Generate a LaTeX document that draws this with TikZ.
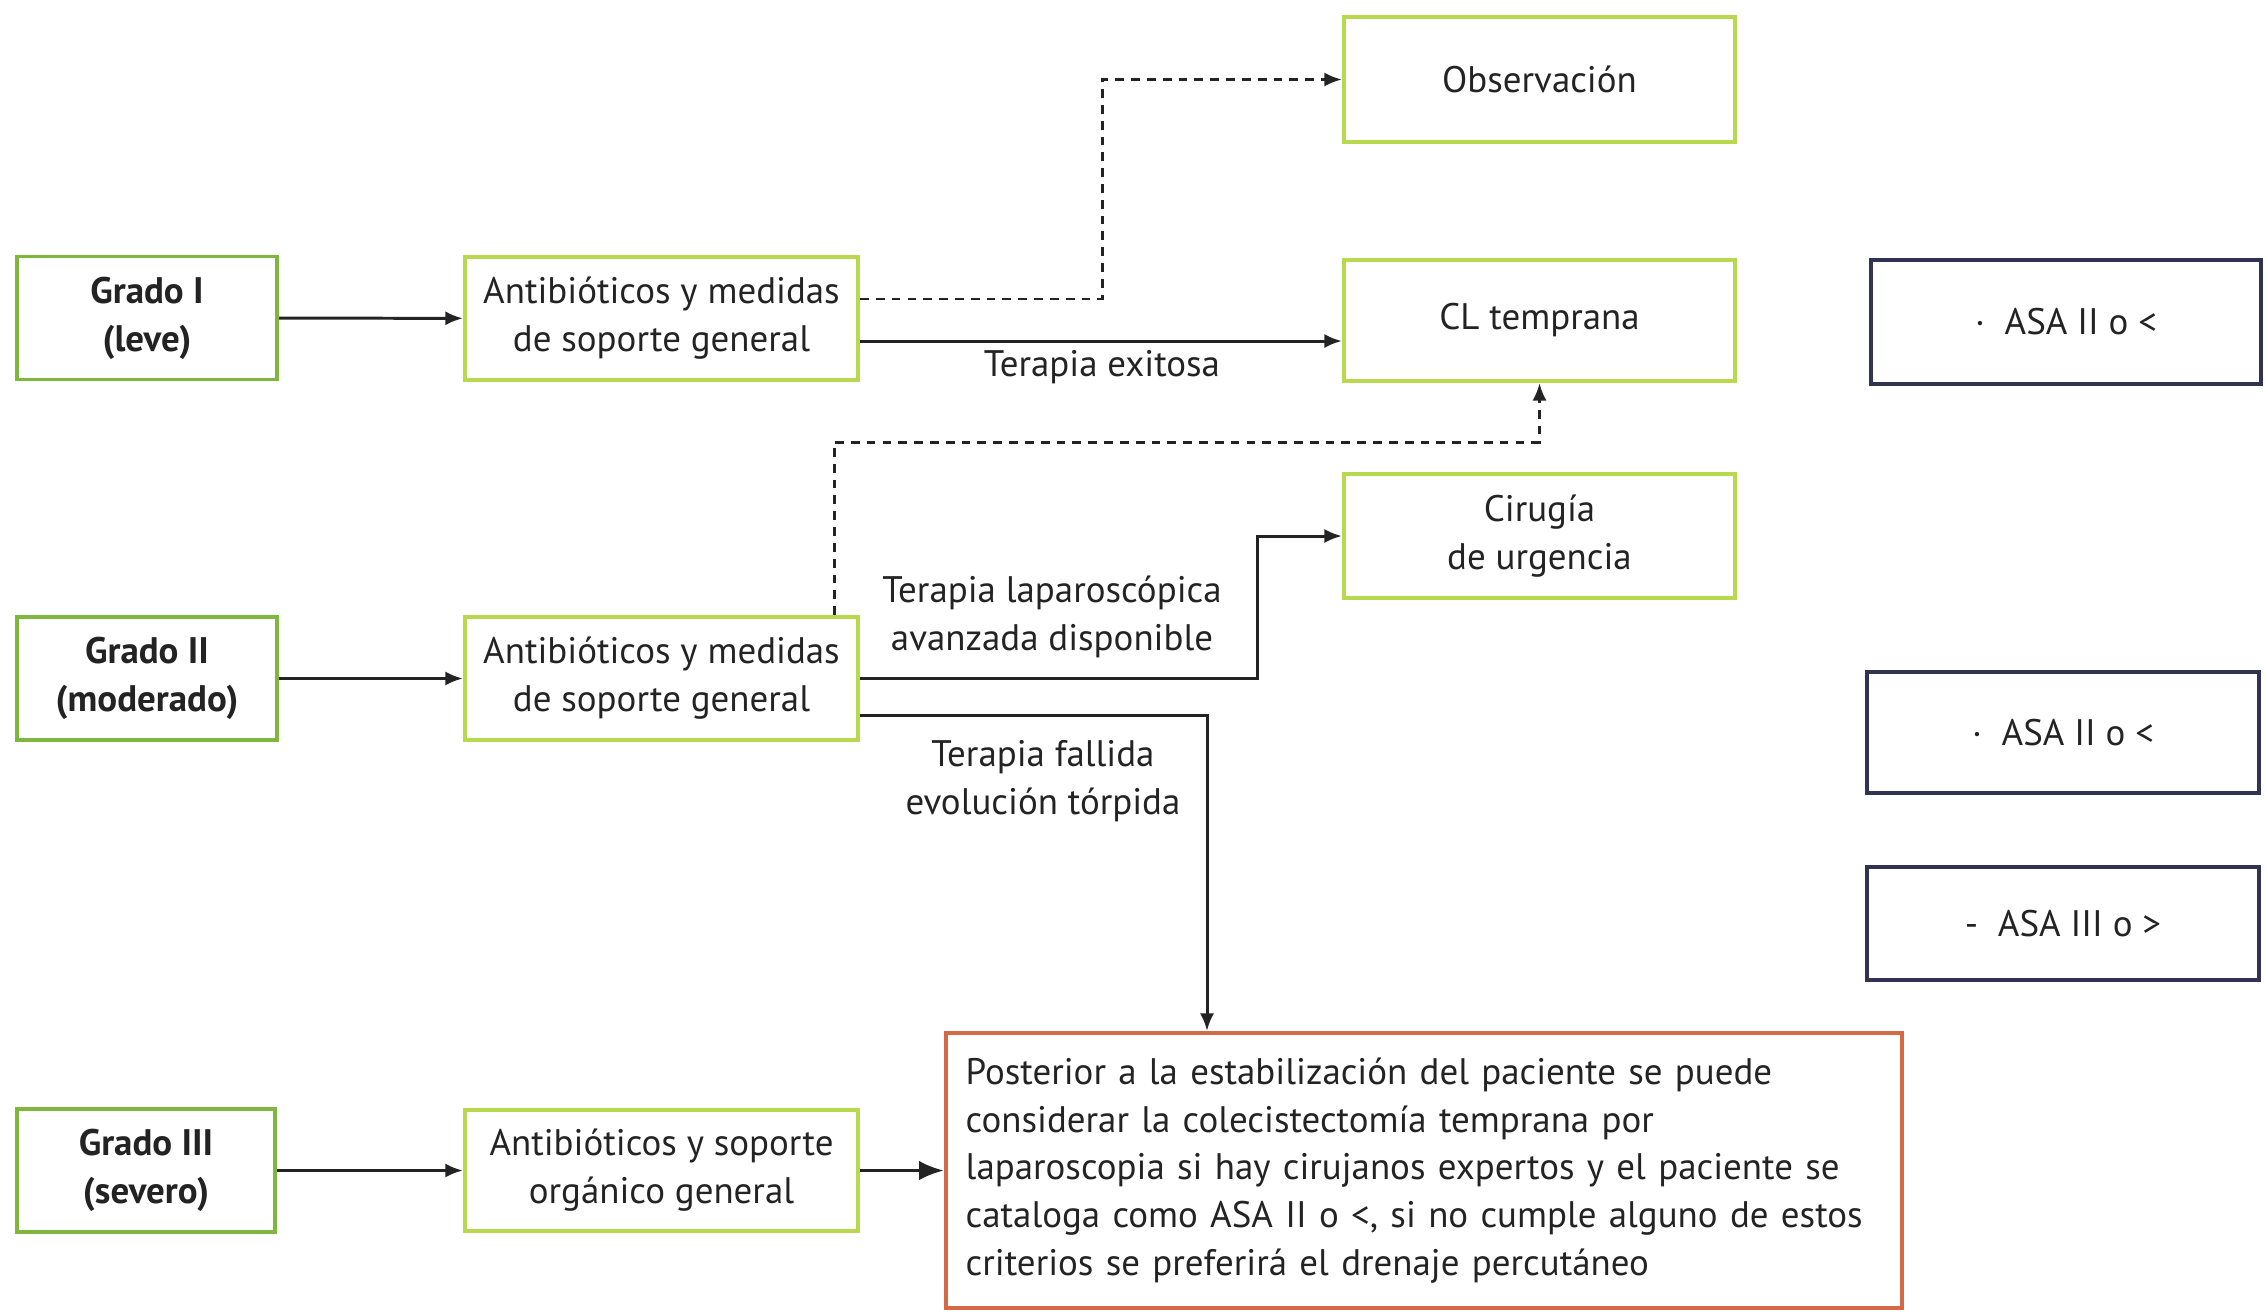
\documentclass[tikz,border=0pt]{standalone}
\usepackage{fontspec}
\setmainfont{PT Sans}
\usetikzlibrary{arrows.meta}
\definecolor{boxgreen}{RGB}{184,216,78}
\definecolor{gradegreen}{RGB}{126,182,62}
\definecolor{asablue}{RGB}{48,52,82}
\definecolor{postred}{RGB}{214,104,70}
\definecolor{ink}{RGB}{35,35,35}

\begin{document}
\begin{tikzpicture}[x=0.01cm,y=-0.01cm,
  every node/.style={text=ink},
  basefont/.style={font=\fontsize{10.5}{13.6}\selectfont},
  box/.style={basefont, draw=boxgreen, line width=1.1pt, minimum width=3.93cm,
    minimum height=1.23cm, align=center, inner sep=2pt},
  grade/.style={box, draw=gradegreen, minimum width=2.6cm,
    font=\fontsize{10.5}{13.6}\selectfont\bfseries},
  asa/.style={basefont, draw=asablue, line width=1.1pt, minimum width=3.9cm,
    minimum height=1.22cm},
  arr/.style={draw=ink, line width=0.85pt, -{Latex[length=5pt,width=4pt]}},
  bigarr/.style={arr, -{Latex[length=7pt,width=5.5pt]}},
  dasharr/.style={arr, dash pattern=on 2.5pt off 2pt},
  lbl/.style={basefont, align=center, inner sep=1pt}
]
\useasboundingbox (0,0) rectangle (2266,1311);

% grade boxes
\node[grade] (g1) at (147,318) {Grado I\\(leve)};
\node[grade] (g2) at (147,678.5) {Grado II\\(moderado)};
\node[grade, minimum width=2.58cm] (g3) at (146,1170.5) {Grado III\\(severo)};

% initial treatment boxes
\node[box] (a1) at (661.5,318.5) {Antibióticos y medidas\\de soporte general};
\node[box] (a2) at (661.5,678.5) {Antibióticos y medidas\\de soporte general};
\node[box, minimum height=1.21cm] (a3) at (661.5,1170.5) {Antibióticos y soporte\\orgánico general};

% outcomes
\node[box, minimum width=3.91cm, minimum height=1.25cm] (obs) at (1539.5,79.5) {Observación};
\node[box, minimum width=3.91cm, minimum height=1.21cm] (cl) at (1539.5,320.5) {CL temprana};
\node[box, minimum width=3.91cm, minimum height=1.24cm] (cir) at (1539.5,536) {Cirugía\\de urgencia};

% ASA boxes
\node[asa, minimum height=1.24cm] (asa1) at (2066,322) {·\ \ ASA II o <};
\node[asa, minimum width=3.92cm, minimum height=1.21cm] (asa2) at (2063,732.5) {·\ \ ASA II o <};
\node[asa, minimum width=3.92cm, minimum height=1.13cm] (asa3) at (2063,923.5) {-\ \ ASA III o >};

% severe-case recommendation
\node[basefont, draw=postred, line width=1.1pt, minimum width=9.56cm, minimum height=2.75cm,
  text width=9.16cm, inner xsep=0.2cm, align=left] (post) at (1424,1170.5)
  {Posterior a la estabilización del paciente se puede\\
   considerar la colecistectomía temprana por\\
   laparoscopia si hay cirujanos expertos y el paciente se\\
   cataloga como ASA II o <, si no cumple alguno de estos\\
   criterios se preferirá el drenaje percutáneo};

% edge labels
\node[lbl] (l1) at (1102,367) {Terapia exitosa};
\node[lbl] (l2) at (1052,617) {Terapia laparoscópica\\avanzada disponible};
\node[lbl] (l3) at (1043,781) {Terapia fallida\\evolución tórpida};

% bends
\coordinate (k1) at (1102,79.5);
\coordinate (k2) at (834,442);
\coordinate (k3) at (1257,536);
\coordinate (k4) at (1207,715);

% connectors
\draw[arr] (g1) -- (a1);
\draw[arr] (g2) -- (a2);
\draw[arr] (g3) -- (a3);
\draw[bigarr] (a3) -- (post);

\draw[arr] ([yshift=-0.225cm]a1.east) -- ([yshift=-0.225cm]a1.east -| cl.west);
\draw[dasharr] ([yshift=0.195cm]a1.east) -| (k1) -- (obs.west);
\draw[dasharr] (a2.north -| k2) -- (k2) -| (cl.south);
\draw[arr] (a2.east) -| (k3) -- (cir.west);
\draw[arr] ([yshift=-0.365cm]a2.east) -| (k4 |- post.north);
\end{tikzpicture}
\end{document}
